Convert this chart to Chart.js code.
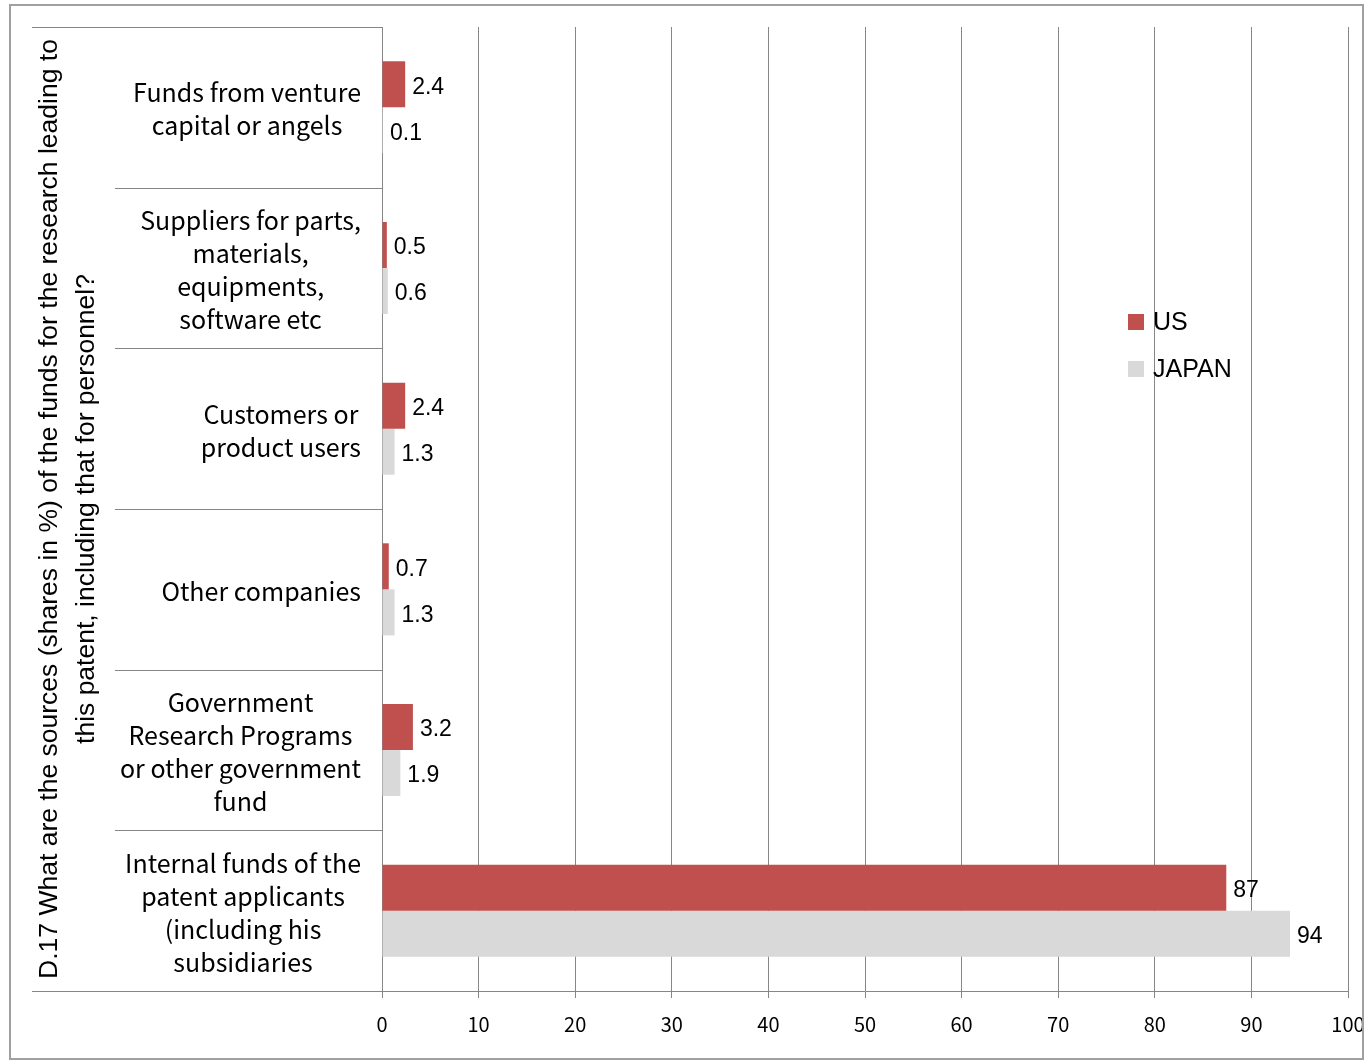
<!DOCTYPE html>
<html>
<head>
<meta charset="utf-8">
<script src="https://cdn.jsdelivr.net/npm/chart.js@4.4.1/dist/chart.umd.min.js"></script>
<style>
  body { margin: 0; background: #fff; }
  #wrap { position: relative; width: 1371px; height: 1064px; }
  #frame { position: absolute; left: 9px; top: 4px; width: 1355px; height: 1056px; border: 2px solid #a0a0a0; box-sizing: border-box; pointer-events: none; }
  canvas { position: absolute; left: 0; top: 0; }
</style>
</head>
<body>
<div id="wrap">
  <canvas id="chart" width="1371" height="1064"></canvas>
  <div id="frame"></div>
</div>
<script>
// categories, top to bottom
let categories = [
    ['Funds from venture', 'capital or angels'],
    ['Suppliers for parts,', 'materials,', 'equipments,', 'software etc'],
    ['Customers or', 'product users'],
    ['Other companies'],
    ['Government', 'Research Programs', 'or other government', 'fund'],
    ['Internal funds of the', 'patent applicants', '(including his', 'subsidiaries']
];
let usValues = [2.4, 0.5, 2.4, 0.7, 3.2, 87.4];
let japanValues = [0.1, 0.6, 1.3, 1.3, 1.9, 94];
let xTicks = [0, 10, 20, 30, 40, 50, 60, 70, 80, 90, 100];
let yTitle = [
    'D.17 What are the sources (shares in %) of the funds for the research leading to',
    'this patent, including that for personnel?'
];

let gothic = '"Noto Sans CJK JP", "Noto Sans", sans-serif';
let arial = '"Liberation Sans", Arial, sans-serif';
let gridColor = '#868686';

function fmt(v) {
    return v >= 10 ? String(Math.round(v)) : v.toFixed(1);
}

// category labels: block right-aligned, lines centered
let catLabels = {
    id: 'catLabels',
    afterDraw(chart) {
        let ctx = chart.ctx;
        let y = chart.scales.y;
        let right = chart.chartArea.left - 21;
        ctx.save();
        ctx.font = '25px ' + gothic;
        ctx.fillStyle = '#000';
        ctx.textAlign = 'center';
        ctx.textBaseline = 'middle';
        categories.forEach((lines, i) => {
            let w = Math.max(...lines.map(l => ctx.measureText(l).width));
            let cx = right - w / 2;
            let cy = y.getPixelForValue(i) + 2;
            let lh = 33;
            lines.forEach((l, j) => {
                ctx.fillText(l, cx, cy + (j - (lines.length - 1) / 2) * lh);
            });
        });
        ctx.restore();
    }
};

// separator lines in the label area
let separators = {
    id: 'separators',
    afterDraw(chart) {
        let ctx = chart.ctx;
        let y = chart.scales.y;
        let area = chart.chartArea;
        ctx.save();
        ctx.strokeStyle = gridColor;
        ctx.lineWidth = 1;
        for (let i = 0; i <= categories.length; i++) {
            let py = Math.round(y.getPixelForValue(i - 0.5)) + 0.5;
            let x0 = (i === 0 || i === categories.length) ? 32 : 115;
            ctx.beginPath();
            ctx.moveTo(x0, py);
            ctx.lineTo(area.left, py);
            ctx.stroke();
        }
        ctx.restore();
    }
};

let dataLabels = {
    id: 'dataLabels',
    afterDatasetsDraw(chart) {
        let ctx = chart.ctx;
        ctx.save();
        ctx.font = '23px ' + arial;
        ctx.fillStyle = '#000';
        ctx.textAlign = 'left';
        ctx.textBaseline = 'middle';
        chart.data.datasets.forEach((ds, di) => {
            chart.getDatasetMeta(di).data.forEach((bar, i) => {
                ctx.fillText(fmt(ds.data[i]), bar.x + 7, bar.y + 3);
            });
        });
        ctx.restore();
    }
};

let legendBox = {
    id: 'legendBox',
    afterDraw(chart) {
        let ctx = chart.ctx;
        ctx.save();
        ctx.font = '25px ' + arial;
        ctx.textAlign = 'left';
        ctx.textBaseline = 'middle';
        chart.data.datasets.forEach((ds, i) => {
            let cy = 322 + i * 47;
            ctx.fillStyle = ds.backgroundColor;
            ctx.fillRect(1128, cy - 8, 16, 16);
            ctx.fillStyle = '#000';
            ctx.fillText(ds.label, 1153, cy + 1);
        });
        ctx.restore();
    }
};

new Chart(document.getElementById('chart').getContext('2d'), {
    type: 'bar',
    data: {
        labels: categories.map(c => c.join(' ')),
        datasets: [{
            label: 'US',
            data: usValues,
            backgroundColor: '#C0504D',
            barPercentage: 1,
            categoryPercentage: 0.573
        }, {
            label: 'JAPAN',
            data: japanValues,
            backgroundColor: '#D9D9D9',
            barPercentage: 1,
            categoryPercentage: 0.573
        }]
    },
    options: {
        indexAxis: 'y',
        responsive: false,
        animation: false,
        devicePixelRatio: 1,
        layout: { padding: { top: 27, right: 23, left: 0, bottom: 0 } },
        plugins: {
            legend: { display: false },
            tooltip: { enabled: false }
        },
        scales: {
            x: {
                min: 0,
                max: 100,
                afterBuildTicks: (s) => { s.ticks = xTicks.map(v => ({ value: v })); },
                afterFit: (s) => {
                    s.height = 1064 - 991;
                    s.paddingLeft = 0;
                    s.paddingRight = 0;
                },
                grid: { color: gridColor, tickLength: 7 },
                border: { color: gridColor },
                ticks: {
                    color: '#000',
                    padding: 14,
                    maxRotation: 0,
                    font: { family: gothic, size: 20 }
                }
            },
            y: {
                afterFit: (s) => { s.width = 382; },
                grid: { drawOnChartArea: false, drawTicks: false },
                border: { color: gridColor },
                ticks: { display: false },
                title: {
                    display: true,
                    text: yTitle,
                    color: '#000',
                    font: { family: arial, size: 26.5, lineHeight: 1.4 },
                    padding: { top: 31, bottom: 0 }
                }
            }
        }
    },
    plugins: [separators, catLabels, dataLabels, legendBox]
});
</script>
</body>
</html>
